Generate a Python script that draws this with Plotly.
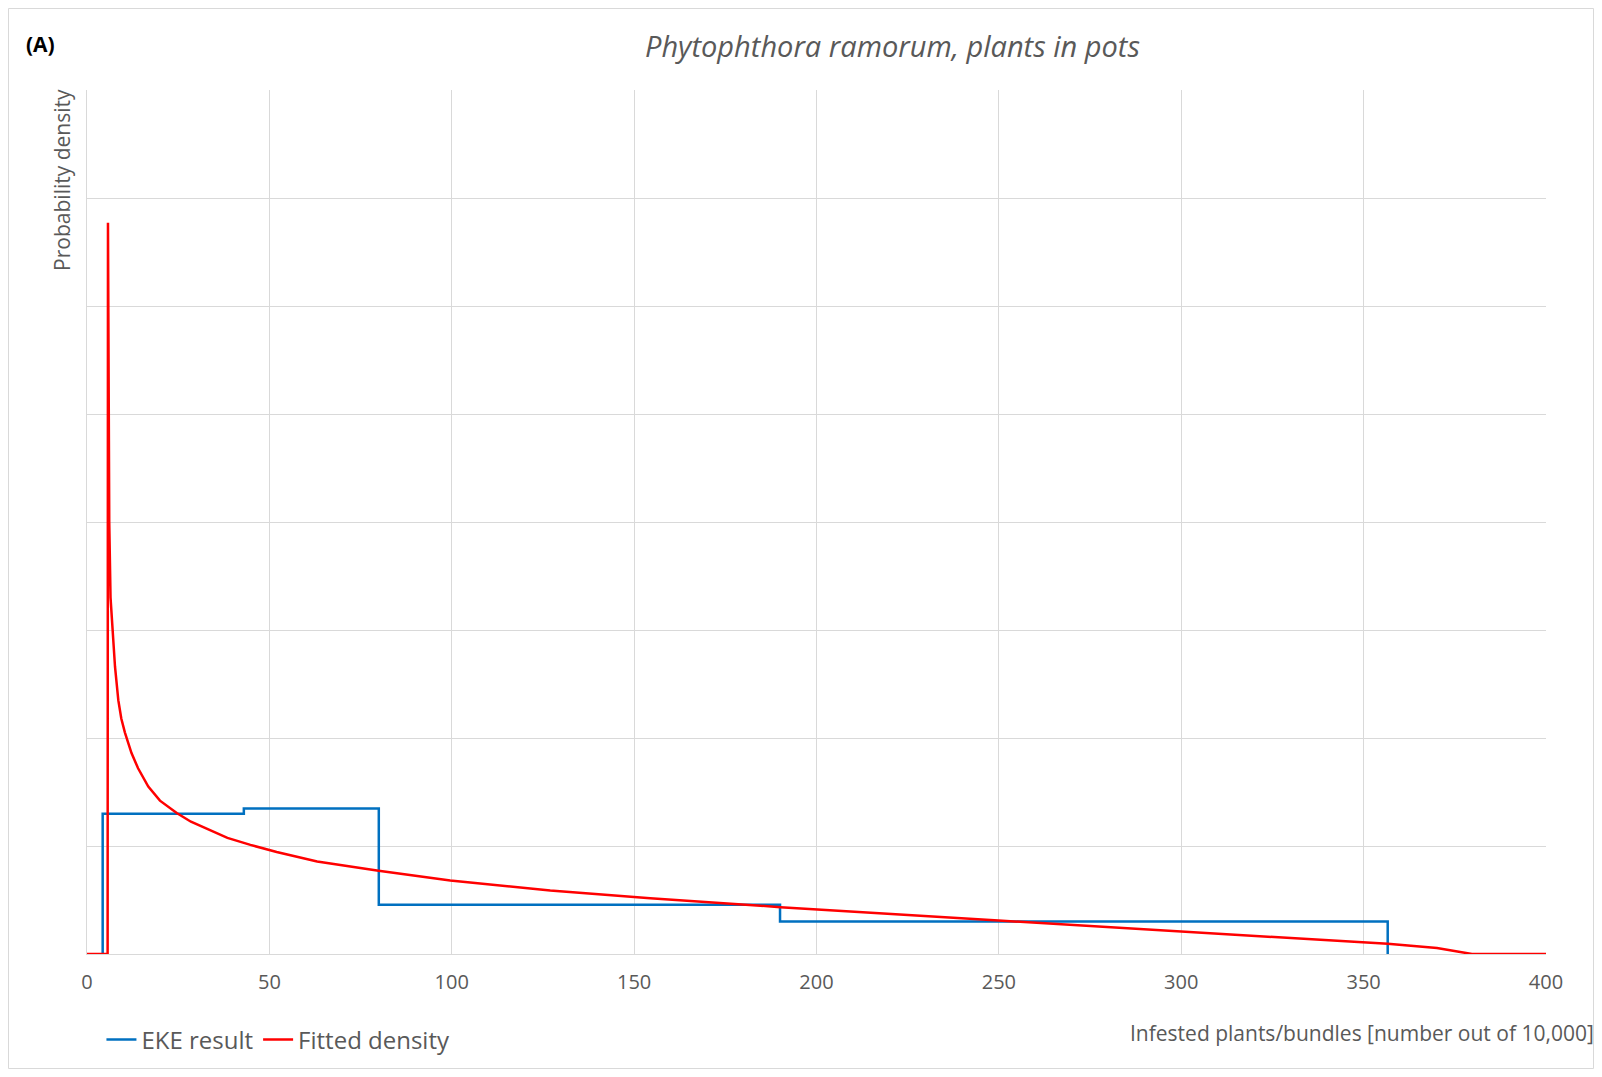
import plotly.graph_objects as go

# EKE result (step density)
eke_x = [4.3, 4.3, 43, 43, 80, 80, 190, 190, 356.6, 356.6]
eke_y = [0, 1.298, 1.298, 1.347, 1.347, 0.455, 0.455, 0.301, 0.301, 0]

# Fitted density
fit_x = [0, 5.65, 5.75, 5.95, 6.1, 6.45, 7.0, 7.68, 8.58, 9.4, 10.4, 11.3, 12.2, 14.0,
         16.8, 20.0, 24.6, 28.5, 33.3, 38.5, 44.8, 52.0, 63.1, 79.95, 99.6, 127, 154.4,
         190.1, 249.9, 288.8, 332.6, 356.6, 370.1, 375.0, 379.7, 400]
fit_y = [0, 0, 6.77, 5.0, 4.0, 3.3, 3.0, 2.66, 2.35, 2.18, 2.05, 1.95, 1.86, 1.72,
         1.55, 1.42, 1.305, 1.225, 1.15, 1.075, 1.01, 0.945, 0.857, 0.770, 0.681, 0.588, 0.517,
         0.434, 0.310, 0.233, 0.147, 0.094, 0.055, 0.025, 0, 0]

x_ticks = [0, 50, 100, 150, 200, 250, 300, 350, 400]

GRAY = "#595959"
GRID = "#d9d9d9"
FONT = "Open Sans"

W, H = 1586, 1061
ML, MR, MT, MB = 79, 48, 82, 115
PW, PH = W - ML - MR, H - MT - MB

fig = go.Figure()
fig.add_trace(go.Scatter(x=eke_x, y=eke_y, mode="lines", name="EKE result",
                         line=dict(color="#0070C0", width=2.5)))
fig.add_trace(go.Scatter(x=fit_x, y=fit_y, mode="lines", name="Fitted density",
                         line=dict(color="#FF0000", width=2.5)))

fig.update_layout(
    width=W, height=H,
    margin=dict(l=ML, r=MR, t=MT, b=MB, autoexpand=False),
    paper_bgcolor="white", plot_bgcolor="white",
    font=dict(family=FONT, color=GRAY),
    showlegend=True,
    legend=dict(orientation="h", x=0.0099, xanchor="left", y=-0.0993, yanchor="middle",
                font=dict(size=24, color=GRAY, family=FONT), itemwidth=30,
                bgcolor="rgba(0,0,0,0)"),
    xaxis=dict(range=[0, 400], tickvals=x_ticks, ticktext=[str(v) for v in x_ticks],
               showgrid=True, gridcolor=GRID, gridwidth=1, zeroline=False,
               showline=True, linecolor=GRID, linewidth=1, mirror=False,
               ticks="", tickfont=dict(size=20, color=GRAY, family=FONT),
               ticklabelstandoff=10),
    yaxis=dict(range=[0, 8], dtick=1, showgrid=True, gridcolor=GRID, gridwidth=1,
               zeroline=False, showticklabels=False, ticks="", showline=True,
               linecolor=GRID, linewidth=1),
)

fig.add_annotation(text="<i>Phytophthora ramorum, plants in pots</i>", xref="paper", yref="paper",
                   x=0.552, y=1.052, xanchor="center", yanchor="middle", showarrow=False,
                   font=dict(size=29, color=GRAY, family=FONT))
fig.add_annotation(text="<b>(A)</b>", xref="paper", yref="paper",
                   x=-0.0435, y=1.053, xanchor="left", yanchor="middle", showarrow=False,
                   font=dict(size=21, color="black", family=FONT))
fig.add_annotation(text="Probability density", xref="paper", yref="paper",
                   x=-0.0172, y=1.0035, xanchor="center", yanchor="top", showarrow=False,
                   textangle=-90, font=dict(size=21, color=GRAY, family=FONT))
fig.add_annotation(text="Infested plants/bundles [number out of 10,000]", xref="paper", yref="paper",
                   x=1.034, y=-0.0912, xanchor="right", yanchor="middle", showarrow=False,
                   font=dict(size=21, color=GRAY, family=FONT))

# outer chart border
fig.add_shape(type="rect", xref="paper", yref="paper",
              x0=(0.5 - ML) / PW, x1=(W - 0.5 - ML) / PW,
              y0=-(H - 0.5 - MT - PH) / PH, y1=1 + (MT - 0.5) / PH,
              line=dict(color=GRID, width=1), fillcolor="rgba(0,0,0,0)", layer="below")

fig.write_html("out.html")
